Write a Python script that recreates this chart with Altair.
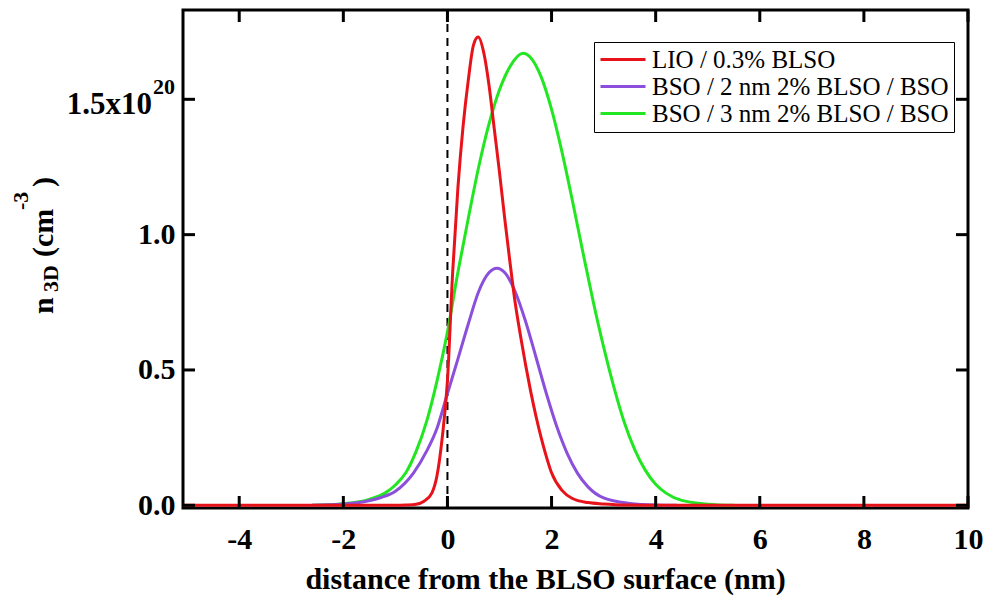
import altair as alt
import pandas as pd

# ---------------- data ----------------
series_names = ["LIO / 0.3% BLSO", "BSO / 2 nm 2% BLSO / BSO", "BSO / 3 nm 2% BLSO / BSO"]
series_colors = ["#e8131a", "#8b4fdc", "#22e622"]

x_red = [-5.1, -1.0, -0.8, -0.6, -0.45, -0.3, -0.2, -0.1, 0.0, 0.1, 0.2, 0.3, 0.4, 0.5, 0.59,
         0.7, 0.8, 0.9, 1.0, 1.1, 1.2, 1.3, 1.4, 1.5, 1.6, 1.7, 1.8, 1.9, 2.0, 2.2, 2.4, 2.7,
         3.0, 3.5, 4.0, 10.0]
y_red = [0.0, 0.0, 0.001, 0.004, 0.015, 0.045, 0.11, 0.25, 0.46, 0.86, 1.17, 1.40, 1.57, 1.70, 1.73,
         1.67, 1.55, 1.39, 1.23, 1.06, 0.90, 0.75, 0.63, 0.52, 0.42, 0.33, 0.25, 0.18, 0.12, 0.055, 0.025, 0.01,
         0.005, 0.001, 0.0, 0.0]

x_purple = [-2.6, -2.0, -1.6, -1.29, -1.0, -0.65, -0.4, -0.2, 0.0, 0.2, 0.4, 0.6, 0.8, 0.95, 1.1,
            1.3, 1.5, 1.7, 1.9, 2.1, 2.3, 2.5, 2.7, 3.0, 3.5, 4.0, 4.4]
y_purple = [0.0, 0.005, 0.013, 0.028, 0.052, 0.12, 0.20, 0.285, 0.413, 0.54, 0.67, 0.79, 0.86, 0.876, 0.86,
            0.79, 0.68, 0.548, 0.413, 0.291, 0.192, 0.118, 0.068, 0.027, 0.007, 0.001, 0.0]

x_green = [-2.6, -2.0, -1.5, -1.2, -1.0, -0.8, -0.6, -0.4, -0.2, 0.0, 0.2, 0.4, 0.6, 0.8, 1.0,
           1.2, 1.45, 1.6, 1.8, 2.0, 2.2, 2.4, 2.6, 2.8, 3.0, 3.2, 3.4, 3.6, 3.8, 4.0, 4.2,
           4.5, 5.0, 5.5]
y_green = [0.0, 0.006, 0.022, 0.045, 0.075, 0.12, 0.20, 0.31, 0.46, 0.64, 0.86, 1.06, 1.25, 1.41, 1.535,
           1.62, 1.67, 1.654, 1.583, 1.463, 1.306, 1.126, 0.937, 0.753, 0.585, 0.435, 0.305, 0.205, 0.13, 0.078, 0.045,
           0.018, 0.004, 0.0]

x_ticks = [-4, -2, 0, 2, 4, 6, 8, 10]
y_ticks = [0.0, 0.5, 1.0, 1.5]
y_top_label = ["1.5x10"]
y_top_exponent = ["20"]
zero_line = [0]
y_title_pieces = ["n", "3D", "(cm", "-3", ")"]
x_title = "distance from the BLSO surface (nm)"

# ---------------- layout ----------------
W, H = 785, 498
XD = [-5.08, 10]
YD = [-0.01, 1.83]
FONT = "Liberation Serif"
TICK_LEN = 12

df_red = pd.DataFrame({"x": x_red, "y": y_red, "series": series_names[0]})
df_purple = pd.DataFrame({"x": x_purple, "y": y_purple, "series": series_names[1]})
df_green = pd.DataFrame({"x": x_green, "y": y_green, "series": series_names[2]})

xs = alt.Scale(domain=XD, nice=False, zero=False)
ys = alt.Scale(domain=YD, nice=False, zero=False)

x_axis = alt.Axis(values=x_ticks, title=x_title, grid=False, ticks=False, domain=False,
                  labelExpr="datum.value < 0 ? '-' + abs(datum.value) : '' + datum.value",
                  labelFont=FONT, labelFontSize=30, labelFontWeight="bold", labelColor="black",
                  labelBaseline="alphabetic", labelPadding=40, labelFlush=False,
                  titleFont=FONT, titleFontSize=30, titleFontWeight="bold", titleColor="black",
                  titleX=362, titleY=80, titleBaseline="alphabetic", titleAlign="center")
y_axis = alt.Axis(values=y_ticks, title=None, grid=False, ticks=False, domain=False,
                  labelExpr="datum.value == 1.5 ? '' : format(datum.value, '.1f')",
                  labelFont=FONT, labelFontSize=30, labelFontWeight="bold", labelColor="black",
                  labelBaseline="middle", labelPadding=8)

color = alt.Color("series:N",
                  scale=alt.Scale(domain=series_names, range=series_colors),
                  legend=alt.Legend(title=None, orient="none", legendX=411, legendY=32,
                                    symbolType="stroke", symbolSize=2025, symbolStrokeWidth=3,
                                    labelFont=FONT, labelFontSize=25, labelColor="black",
                                    fillColor="white", strokeColor="black", padding=5,
                                    rowPadding=1, labelOffset=5, labelLimit=0, clipHeight=25))


def line_layer(df):
    return alt.Chart(df).mark_line(strokeWidth=3, interpolate="monotone", clip=True).encode(
        x=alt.X("x:Q", scale=xs, axis=x_axis),
        y=alt.Y("y:Q", scale=ys, axis=y_axis),
        color=color,
    )


dash = alt.Chart(pd.DataFrame({"x": zero_line})).mark_rule(
    color="black", strokeWidth=2, strokeDash=[8, 6]).encode(x=alt.X("x:Q", scale=xs))

xt = pd.DataFrame({"v": x_ticks})
yt = pd.DataFrame({"v": y_ticks})
tick_style = dict(color="black", strokeWidth=3)
ticks_bottom = alt.Chart(xt).mark_rule(**tick_style).encode(
    x=alt.X("v:Q", scale=xs), y=alt.value(H), y2=alt.value(H - TICK_LEN))
ticks_top = alt.Chart(xt).mark_rule(**tick_style).encode(
    x=alt.X("v:Q", scale=xs), y=alt.value(0), y2=alt.value(TICK_LEN))
ticks_left = alt.Chart(yt).mark_rule(**tick_style).encode(
    y=alt.Y("v:Q", scale=ys), x=alt.value(0), x2=alt.value(TICK_LEN))
ticks_right = alt.Chart(yt).mark_rule(**tick_style).encode(
    y=alt.Y("v:Q", scale=ys), x=alt.value(W), x2=alt.value(W - TICK_LEN))

top_label = alt.Chart(pd.DataFrame({"v": [y_ticks[-1]], "t": y_top_label})).mark_text(
    font=FONT, fontSize=31, fontWeight="bold", color="black", align="right",
    baseline="middle", dx=-31, dy=6).encode(
    x=alt.datum(XD[0], scale=xs), y=alt.Y("v:Q", scale=ys), text="t:N")
top_exp = alt.Chart(pd.DataFrame({"v": [y_ticks[-1]], "t": y_top_exponent})).mark_text(
    font=FONT, fontSize=22, fontWeight="bold", color="black", align="right",
    baseline="alphabetic", dx=-8, dy=-5).encode(
    x=alt.datum(XD[0], scale=xs), y=alt.Y("v:Q", scale=ys), text="t:N")

# y-axis title pieces (rotated, with subscript and superscript)
title_specs = [  # (piece index, font size, x, y)
    (0, 30, -130, 304),
    (1, 22, -125, 282),
    (2, 30, -130, 247),
    (3, 22, -155, 200),
    (4, 30, -130, 177),
]
title_layers = []
for i, fs, tx, ty in title_specs:
    title_layers.append(
        alt.Chart(pd.DataFrame({"t": [y_title_pieces[i]]})).mark_text(
            font=FONT, fontSize=fs, fontWeight="bold", color="black", angle=270,
            align="left", baseline="alphabetic").encode(
            text="t:N", x=alt.value(tx), y=alt.value(ty)))

chart = alt.layer(
    dash,
    line_layer(df_green),
    line_layer(df_purple),
    line_layer(df_red),
    ticks_bottom, ticks_top, ticks_left, ticks_right,
    top_label, top_exp,
    *title_layers,
).properties(
    width=W, height=H,
    padding={"left": 183, "top": 10, "right": 18, "bottom": 88},
    autosize=alt.AutoSizeParams(type="none"),
    background="white",
).configure_view(stroke="black", strokeWidth=3)

chart.save("out.html", embed_options={"renderer": "svg", "actions": False})
